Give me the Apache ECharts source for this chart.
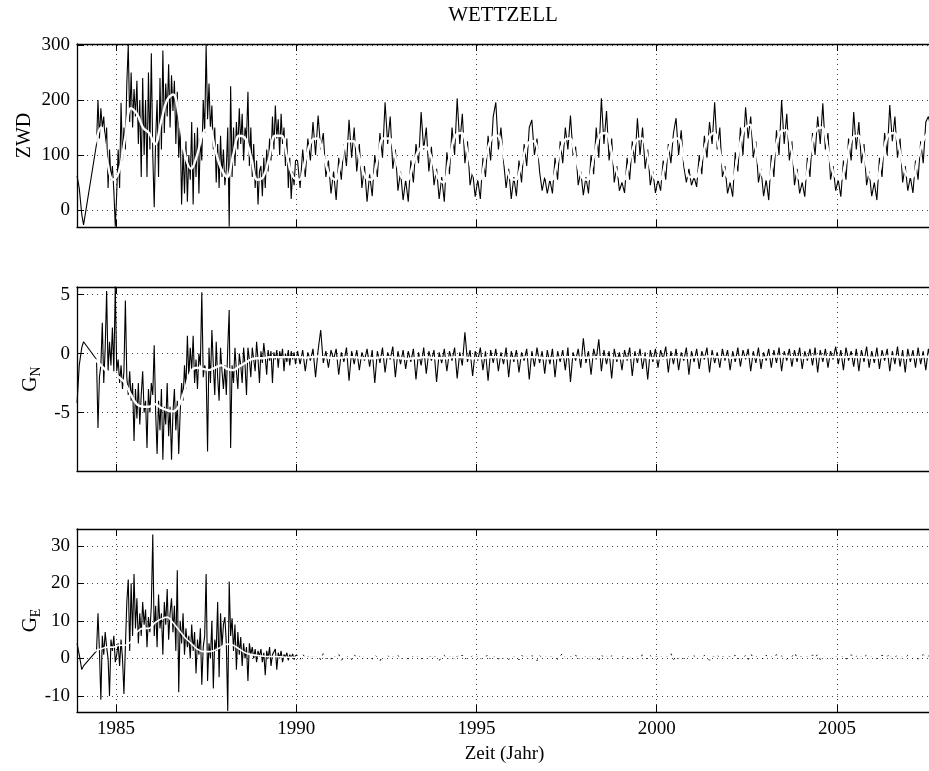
<!DOCTYPE html>
<html>
<head>
<meta charset="utf-8">
<script src="https://cdn.jsdelivr.net/npm/echarts@6/dist/echarts.min.js"></script>
<style>
html, body { margin: 0; padding: 0; background: #fff; }
#chart { width: 929px; height: 771px; }
</style>
</head>
<body>
<div id="chart"></div>
<script>
// ---- Station WETTZELL: troposphere parameters per VLBI session ----

// First sessions (irregular epochs, decimal years)
const startEpochs = [1983.92, 1983.98, 1984.05, 1984.10, 1984.46, 1984.50, 1984.54, 1984.58, 1984.62,
  1984.66, 1984.70, 1984.74, 1984.78, 1984.82, 1984.86, 1984.90, 1984.94, 1984.98];
const startZWD = [62, 40, -8, -27, 120, 200, 130, 185, 150, 170, 120, 150, 40, 110, 55, 80, 35, -30];
const startGN = [-4.2, -1.0, 0.5, 1.0, -0.5, -6.3, -2.0, -1.0, 2.6, -2.5, 0.5, 5.3, -1.5, 1.0, -1.0, 2.2, -1.5, 5.8];
const startGE = [4, 1, -3, -2, 2, 12, 2, -11, 6, 1, 7, 3, 0, -10, 5, 2, 6, -1];

// Regular programme: sessions spread evenly through each year
const blockYears = [1985, 1986, 1987, 1988, 1989, 1990, 1991, 1992, 1993, 1994, 1995, 1996,
  1997, 1998, 1999, 2000, 2001, 2002, 2003, 2004, 2005, 2006, 2007];
const sessionsPerYear = [25, 25, 25, 25, 25, 14, 14, 14, 14, 14, 14, 14, 14, 14, 14, 14, 14, 14, 14, 14, 14, 14, 14];

// Zenith wet delay [mm]
const zwdBlocks = [
  [30, 110, 40, 195, 90, 150, 110, 230, 300, 160, 250, 150, 220, 170, 235, 120, 200, 60, 240, 100, 200, 60, 250, 110, 285],
  [100, 5, 130, 200, 60, 240, 110, 290, 140, 230, 170, 265, 150, 245, 180, 235, 120, 215, 95, 150, 10, 110, 30, 125, 15],
  [100, 55, 160, 10, 140, 60, 150, 30, 130, 90, 200, 140, 300, 165, 230, 145, 190, 110, 150, 50, 120, 40, 135, 60, 110],
  [45, 75, 150, -30, 225, 60, 150, 80, 160, 110, 185, 120, 175, 90, 150, 130, 215, 80, 150, 60, 120, 40, 90, 10, 70],
  [80, 25, 95, 40, 110, 70, 130, 90, 170, 110, 190, 130, 165, 100, 175, 120, 150, 80, 130, 40, 95, 20, 70, 45, 90],
  [90, 40, 110, 60, 130, 90, 160, 100, 172, 110, 140, 60, 90, 30],
  [70, 18, 95, 55, 120, 80, 164, 95, 150, 70, 120, 40, 80, 15],
  [65, 25, 100, 60, 140, 95, 196, 120, 170, 75, 110, 35, 70, 18],
  [55, 15, 90, 50, 120, 85, 178, 110, 150, 70, 115, 45, 75, 20],
  [60, 15, 105, 65, 150, 100, 203, 120, 175, 85, 125, 45, 70, 24],
  [55, 20, 95, 60, 135, 90, 170, 196, 110, 150, 90, 40, 75, 20],
  [60, 25, 90, 50, 120, 80, 150, 164, 100, 130, 70, 35, 60, 30],
  [55, 30, 95, 55, 125, 85, 150, 110, 172, 100, 115, 45, 70, 27],
  [60, 30, 100, 65, 150, 95, 203, 120, 180, 90, 130, 50, 80, 35],
  [50, 31, 95, 55, 125, 85, 167, 100, 150, 75, 110, 45, 70, 31],
  [55, 35, 90, 55, 120, 85, 140, 167, 100, 145, 80, 50, 75, 45],
  [60, 42, 100, 65, 135, 95, 160, 120, 196, 110, 150, 60, 80, 30],
  [50, 24, 105, 70, 150, 100, 187, 130, 170, 95, 125, 50, 75, 25],
  [55, 18, 100, 60, 145, 100, 200, 120, 175, 90, 125, 45, 75, 30],
  [50, 24, 95, 60, 140, 100, 170, 120, 194, 110, 140, 55, 80, 35],
  [55, 24, 90, 55, 130, 90, 178, 110, 160, 85, 120, 45, 70, 25],
  [50, 18, 95, 60, 140, 100, 191, 125, 170, 95, 130, 50, 80, 35],
  [60, 31, 90, 55, 125, 85, 160, 170, 150]
];

// North gradient [mm]
const gnBlocks = [
  [-1.5, -0.5, -2.5, -1.0, -3.0, -1.5, 4.5, -2.0, -3.5, -1.5, -4.0, -2.5, -7.4, -3.0, -5.5, -2.5, -6.0, -3.5, -1.5, -5.0, -4.0, -8.0, -3.0, -5.0, -2.5],
  [-3.5, 0.7, -5.0, -8.5, -4.0, -6.5, -3.0, -9.0, -4.5, -6.0, -2.5, -7.0, -4.5, -9.0, -5.0, -3.0, -6.5, -4.0, -8.5, -5.0, -2.5, -4.0, -1.0, -3.0, 1.5],
  [-2.0, 0.5, -1.5, 1.5, -2.5, -0.5, -3.0, 0.0, -1.0, 5.2, -2.0, -1.0, -1.5, -8.3, 0.5, -2.5, 2.0, -1.0, -3.5, 1.0, -2.0, -4.0, 0.5, -1.5, -3.0],
  [-1.0, -3.5, 0.5, 3.7, -8.0, -1.0, -2.5, 0.5, -1.5, -3.0, 0.0, -1.0, -2.5, 0.5, -1.0, -3.5, 0.5, -0.5, -2.0, 0.5, -0.5, -1.5, 1.0, -0.5, -2.5],
  [0.2, -0.8, 0.9, -0.3, -1.8, 0.3, -0.6, 0.2, -2.5, 0.1, -0.5, 0.3, -1.2, 0.2, -0.4, 0.4, -1.5, 0.0, -0.7, 0.3, -1.0, 0.2, -0.5, 0.1, -0.9],
  [0.2, -0.9, 0.3, -1.5, 0.1, -0.6, 0.4, -2.0, 0.3, 2.0, -0.8, 0.2, -1.2, 0.3],
  [-0.5, 0.4, -1.8, 0.1, -0.7, 0.5, -2.3, 0.2, -0.9, 0.3, -1.4, 0.1, -0.6, 0.4],
  [-1.1, 0.3, -2.5, 0.2, -0.8, 0.5, -1.6, 0.1, -0.5, 0.6, -2.0, 0.2, -0.9, 0.3],
  [-1.3, 0.2, -0.7, 0.4, -2.2, 0.1, -1.0, 0.5, -1.7, 0.2, -0.6, 0.3, -2.4, 0.1],
  [-0.8, 0.4, -1.5, 0.2, -0.6, 0.5, -2.1, 0.1, -1.0, 1.8, -0.7, 0.3, -1.9, 0.2],
  [-0.6, 0.5, -1.4, 0.2, -2.3, 0.3, -0.8, 0.4, -1.5, 0.1, -0.9, 0.5, -2.0, 0.2],
  [-0.7, 0.3, -1.6, 0.1, -0.6, 0.4, -2.2, 0.2, -1.1, 0.5, -0.8, 0.2, -1.7, 0.3],
  [-0.9, 0.4, -2.0, 0.2, -0.7, 0.3, -1.4, 0.5, -2.4, 0.1, -0.6, 0.4, -1.2, 1.3],
  [-0.8, 0.2, -1.8, 0.4, -0.5, 1.2, -1.5, 0.3, -0.9, 0.2, -2.1, 0.4, -0.7, 0.1],
  [-1.4, 0.3, -0.6, 0.5, -1.9, 0.2, -0.8, 0.4, -1.3, 0.1, -2.2, 0.3, -0.7, 0.4],
  [-1.2, 0.3, -0.5, 0.6, -1.6, 0.2, -0.9, 0.4, -1.4, 0.1, -0.6, 0.5, -1.8, 0.2],
  [-0.7, 0.4, -1.3, 0.2, -0.5, 0.5, -1.6, 0.3, -0.8, 0.1, -1.2, 0.4, -0.6, 0.3],
  [-1.4, 0.2, -0.7, 0.5, -1.1, 0.3, -0.5, 0.4, -1.5, 0.2, -0.8, 0.5, -1.3, 0.1],
  [-0.6, 0.4, -1.2, 0.3, -0.8, 0.5, -1.5, 0.2, -0.6, 0.4, -1.1, 0.3, -0.7, 0.5],
  [-1.3, 0.2, -0.6, 0.4, -1.0, 0.5, -1.6, 0.3, -0.7, 0.4, -1.2, 0.2, -0.5, 0.6],
  [-0.9, 0.3, -1.4, 0.5, -0.6, 0.2, -1.1, 0.4, -1.5, 0.3, -0.7, 0.6, -1.2, 0.2],
  [-0.8, 0.5, -1.3, 0.3, -0.6, 0.4, -1.5, 0.2, -0.9, 0.6, -1.1, 0.3, -1.6, 0.4],
  [-0.7, 0.3, -1.2, 0.5, -0.9, 0.2, -1.4, 0.4, -0.6]
];

// East gradient [mm]
const geBlocks = [
  [1, 4, -2, 5, 0, -9.5, 3, 15, 21, 2, 20, 6, 22.5, 8, 16, 4, 12, 6, 15, 9, 13, 3, 11, 7, 14],
  [33, 6, 14, 3, 17, 8, 12, 1, 15, 9, 18.5, 5, 12, 16, 7, 14, 2, 23.5, -9, 10, 4, 12, 1, 8, 3],
  [6, 0, 9, 2, 7, -4, 5, 1, 8, -7, 3, 6, 22.5, -6, 4, 0, 10, -8, 5, 2, 15, -5, 12, 3, 9],
  [11, 4, -14, 20.5, 6, 10.7, 2, 9, -3, 7, 1, 5.7, -2, 4, 0, 3, -6, 4, 1, 3, 0, 2.5, -1, 2, 0.5],
  [2.5, -1, 1.5, -4.5, 2, 0, 3, -2, 1, 0.5, 2.5, -3, 1.5, 0, 2, -1, 1, 0.3, 1.5, -0.5, 1, 0.2, 1.2, -0.3, 0.8],
  [0.8, -0.3, 1.2, 0.1, 0.6, -0.5, 1.0, 0.2, 0.7, -0.4, 1.3, 0.0, 0.5, -0.2],
  [0.9, 0.1, 1.1, -0.6, 0.4, 0.2, 0.8, -0.3, 1.0, 0.1, 0.6, -0.5, 0.9, 0.0],
  [0.5, -0.2, 0.9, 0.3, -0.7, 0.6, 0.1, 1.0, -0.3, 0.4, 0.2, 0.8, -0.4, 0.3],
  [0.6, 0.0, -0.5, 0.9, 0.2, 0.5, -0.3, 0.7, 0.1, 1.1, -0.2, 0.4, 0.3, -0.6],
  [0.4, 0.8, -0.2, 0.3, 1.0, -0.4, 0.6, 0.1, 0.9, -0.3, 0.5, 0.2, 0.7, 0.0],
  [0.7, -0.1, 0.5, 0.2, 1.2, -0.5, 0.3, 0.6, -0.2, 0.8, 0.1, 0.4, -0.3, 0.6],
  [0.3, 0.6, -0.4, 0.9, 0.1, 0.5, -0.2, 0.7, 0.3, -0.6, 0.8, 0.0, 0.4, 0.2],
  [0.8, 0.1, 0.4, -0.3, 0.6, 1.4, 0.2, -0.2, 0.5, 0.3, 0.9, -0.4, 0.6, 0.1],
  [0.5, -0.2, 0.8, 0.2, 0.4, -0.5, 1.0, 0.1, 0.6, -0.3, 0.7, 0.2, 0.3, -0.1],
  [0.6, 0.2, -0.4, 0.9, 0.0, 0.5, 0.3, -0.2, 1.1, 0.4, -0.3, 0.7, 0.1, 0.5],
  [0.3, 0.8, -0.1, 0.5, 0.2, 1.3, -0.4, 0.6, 0.1, 0.4, -0.2, 0.9, 0.3, 0.0],
  [0.7, -0.3, 0.4, 0.1, 0.8, 0.2, -0.5, 0.6, 0.3, 1.0, -0.1, 0.5, 0.2, 0.6],
  [0.4, 0.0, 0.9, -0.2, 0.5, 0.3, 0.7, -0.4, 1.2, 0.2, 0.6, 0.0, 0.4, -0.3],
  [0.8, 0.2, 0.5, -0.1, 1.0, 0.3, 0.6, 0.1, -0.3, 0.7, 0.4, 1.5, 0.2, 0.5],
  [0.3, -0.2, 0.6, 0.4, 0.9, 0.1, 1.1, -0.3, 0.5, 0.2, 0.8, 0.0, 0.6, 0.3],
  [0.5, 0.1, 0.8, -0.2, 0.4, 1.0, 0.2, 0.6, -0.4, 0.7, 0.3, 0.9, 0.1, 0.4],
  [0.6, -0.1, 0.3, 0.9, 0.2, 0.5, 1.2, -0.3, 0.4, 0.7, 0.0, 0.5, 0.2, 0.8],
  [0.4, 0.1, 0.7, -0.2, 0.5, 1.0, 0.3, 0.6, 0.2]
];

// Smoothed curves: six values per year (bi-monthly)
const trendYears = [1984, 1985, 1986, 1987, 1988, 1989, 1990, 1991, 1992, 1993, 1994, 1995,
  1996, 1997, 1998, 1999, 2000, 2001, 2002, 2003, 2004, 2005, 2006, 2007];
const zwdTrend = [
  [null, null, 120, 150, 90, 55],
  [70, 130, 185, 175, 150, 140],
  [120, 160, 200, 210, 170, 100],
  [75, 100, 140, 150, 110, 75],
  [60, 100, 135, 130, 95, 55],
  [60, 95, 135, 135, 95, 60],
  [55, 90, 125, 130, 100, 65],
  [55, 90, 125, 125, 95, 60],
  [55, 90, 130, 130, 95, 60],
  [55, 85, 110, 115, 95, 60],
  [50, 95, 135, 140, 105, 65],
  [55, 95, 130, 135, 100, 60],
  [55, 85, 120, 125, 95, 60],
  [55, 90, 125, 130, 95, 60],
  [55, 95, 135, 140, 105, 65],
  [55, 90, 125, 130, 95, 60],
  [55, 90, 125, 130, 95, 60],
  [60, 95, 130, 140, 105, 65],
  [55, 100, 145, 155, 110, 65],
  [55, 100, 140, 145, 105, 60],
  [55, 100, 145, 150, 110, 65],
  [55, 90, 130, 135, 100, 60],
  [55, 95, 135, 140, 105, 65],
  [60, 95, 130, 145]
];
const gnTrend = [
  [null, null, -0.5, -1.0, -1.5, -1.7],
  [-2.0, -2.5, -3.5, -4.3, -4.5, -4.5],
  [-4.3, -4.6, -4.8, -4.9, -4.4, -3.0],
  [-1.5, -1.2, -1.3, -1.4, -1.2, -1.0],
  [-1.3, -1.4, -1.1, -0.8, -0.5, -0.4],
  [-0.4, -0.3, -0.3, -0.3, -0.3, -0.3],
  [-0.3, -0.35, -0.3, -0.25, -0.3, -0.35],
  [-0.4, -0.35, -0.3, -0.3, -0.35, -0.4],
  [-0.4, -0.35, -0.3, -0.3, -0.35, -0.4],
  [-0.45, -0.4, -0.35, -0.3, -0.35, -0.4],
  [-0.4, -0.35, -0.3, -0.3, -0.35, -0.4],
  [-0.4, -0.35, -0.3, -0.3, -0.35, -0.4],
  [-0.4, -0.35, -0.3, -0.3, -0.35, -0.4],
  [-0.4, -0.35, -0.3, -0.3, -0.3, -0.35],
  [-0.35, -0.3, -0.3, -0.3, -0.35, -0.4],
  [-0.4, -0.35, -0.3, -0.3, -0.35, -0.4],
  [-0.4, -0.35, -0.3, -0.3, -0.35, -0.35],
  [-0.3, -0.3, -0.25, -0.25, -0.3, -0.3],
  [-0.35, -0.3, -0.3, -0.25, -0.3, -0.35],
  [-0.3, -0.25, -0.25, -0.25, -0.3, -0.3],
  [-0.35, -0.3, -0.25, -0.25, -0.3, -0.3],
  [-0.3, -0.3, -0.25, -0.3, -0.3, -0.35],
  [-0.35, -0.3, -0.25, -0.25, -0.3, -0.35],
  [-0.3, -0.3, -0.25, -0.3]
];
const geTrend = [
  [null, null, 2.0, 2.5, 3.0, 3.0],
  [3.5, 3.5, 4.5, 7.0, 8.0, 8.0],
  [9.5, 10.5, 11.0, 9.5, 7.5, 5.5],
  [4.0, 2.5, 1.8, 1.8, 2.2, 3.0],
  [3.8, 3.5, 2.5, 1.5, 1.0, 0.8],
  [0.6, 0.5, 0.5, 0.4, 0.3, 0.3],
  [0.3, 0.3, 0.3, 0.3, 0.3, 0.3],
  [0.3, 0.3, 0.3, 0.3, 0.3, 0.3],
  [0.3, 0.3, 0.3, 0.3, 0.3, 0.3],
  [0.3, 0.3, 0.3, 0.3, 0.3, 0.3],
  [0.3, 0.3, 0.3, 0.3, 0.3, 0.3],
  [0.3, 0.3, 0.3, 0.3, 0.3, 0.3],
  [0.3, 0.3, 0.3, 0.3, 0.3, 0.3],
  [0.3, 0.3, 0.3, 0.3, 0.3, 0.3],
  [0.3, 0.3, 0.3, 0.3, 0.3, 0.3],
  [0.3, 0.3, 0.3, 0.3, 0.3, 0.3],
  [0.3, 0.3, 0.3, 0.3, 0.3, 0.3],
  [0.3, 0.3, 0.3, 0.3, 0.3, 0.3],
  [0.3, 0.3, 0.3, 0.3, 0.3, 0.3],
  [0.3, 0.3, 0.3, 0.3, 0.3, 0.3],
  [0.3, 0.3, 0.3, 0.3, 0.3, 0.3],
  [0.3, 0.3, 0.3, 0.3, 0.3, 0.3],
  [0.3, 0.3, 0.3, 0.3, 0.3, 0.3],
  [0.3, 0.3, 0.3, 0.3]
];

// ---- assemble [epoch, value] pairs ----
function sessionPoints(startVals, blocks) {
  const pts = startEpochs.map((t, i) => [t, startVals[i]]);
  blockYears.forEach((y, b) => {
    const n = sessionsPerYear[b];
    blocks[b].forEach((v, i) => pts.push([y + (i + 0.5) / n, v]));
  });
  return pts;
}
function trendPoints(rows) {
  const pts = [];
  trendYears.forEach((y, r) => rows[r].forEach((v, i) => pts.push([y + (i + 0.5) / 6, v])));
  return pts;
}

const zwdPts = sessionPoints(startZWD, zwdBlocks);
const gnPts = sessionPoints(startGN, gnBlocks);
const gePts = sessionPoints(startGE, geBlocks);
// the small post-1990 east gradients print faintly
const geEarly = gePts.filter(p => p[0] < 1990);
const geLate = gePts.filter(p => p[0] >= 1989.97);

// ---- layout ----
const FONT = "'Liberation Serif', 'Times New Roman', 'DejaVu Serif', serif";
const X_MIN = 1983.918, X_MAX = 2007.636;
const GRID_LEFT = 77, GRID_WIDTH = 855;
const panels = [
  { top: 44, height: 183, min: -31, max: 302, split: 3, step: 100, name: 'ZWD', gap: 42 },
  { top: 287, height: 184, min: -9.95, max: 5.64, split: 3, step: 5, name: '{g|G}{s|N}', gap: 34 },
  { top: 529, height: 183, min: -14.3, max: 34.5, split: 5, step: 10, name: '{g|G}{s|E}', gap: 34 }
];

const isStep = (v, step) => Math.abs(v - Math.round(v / step) * step) < 1e-6;

const grid = panels.map(p => ({ left: GRID_LEFT, width: GRID_WIDTH, top: p.top, height: p.height, outerBoundsMode: 'none' }));

const xAxis = [];
panels.forEach((p, g) => {
  const last = g === panels.length - 1;
  xAxis.push({
    type: 'value', gridIndex: g, min: X_MIN, max: X_MAX, splitNumber: 5, position: 'bottom',
    axisLine: { show: true, onZero: false, lineStyle: { color: '#000', width: 1.3 } },
    axisTick: { show: true, inside: true, length: 7, lineStyle: { color: '#000', width: 1 } },
    axisLabel: {
      show: last, margin: 8, color: '#000', fontFamily: FONT, fontSize: 19,
      formatter: v => (isStep(v, 5) ? String(Math.round(v)) : '')
    },
    splitLine: { show: true, lineStyle: { color: '#444', width: 1, type: [1, 4] } },
    name: last ? 'Zeit (Jahr)' : '', nameLocation: 'middle', nameGap: 33, nameMoveOverlap: false,
    nameTextStyle: { color: '#000', fontFamily: FONT, fontSize: 19 }
  });
  xAxis.push({
    type: 'value', gridIndex: g, min: X_MIN, max: X_MAX, splitNumber: 5, position: 'top',
    axisLine: { show: true, onZero: false, lineStyle: { color: '#000', width: 1.3 } },
    axisTick: { show: true, inside: true, length: 7, lineStyle: { color: '#000', width: 1 } },
    axisLabel: { show: false }, splitLine: { show: false }
  });
});

const yAxis = panels.map((p, g) => ({
  type: 'value', gridIndex: g, min: p.min, max: p.max, splitNumber: p.split, position: 'left',
  axisLine: { show: true, onZero: false, lineStyle: { color: '#000', width: 1.3 } },
  axisTick: { show: true, inside: true, length: 7, lineStyle: { color: '#000', width: 1 } },
  axisLabel: {
    margin: 7, color: '#000', fontFamily: FONT, fontSize: 19,
    formatter: v => (isStep(v, p.step) ? String(Math.round(v)) : '')
  },
  splitLine: { show: true, lineStyle: { color: '#444', width: 1, type: [1, 4] } },
  name: p.name, nameLocation: 'middle', nameRotate: 90, nameGap: p.gap, nameMoveOverlap: false,
  nameTextStyle: {
    color: '#000', fontFamily: FONT, fontSize: 20,
    rich: {
      g: { fontFamily: FONT, fontSize: 21, color: '#000', lineHeight: 26 },
      s: { fontFamily: FONT, fontSize: 14, color: '#000', lineHeight: 14, verticalAlign: 'bottom' }
    }
  }
}));

const dataLine = { color: '#000', width: 1.1 };
const trendLine = { color: '#fff', width: 2.4 };
function line(data, g, style, extra) {
  return Object.assign({
    type: 'line', xAxisIndex: g * 2, yAxisIndex: g, data: data,
    symbol: 'none', showSymbol: false, silent: true, lineStyle: style, connectNulls: false
  }, extra || {});
}

const option = {
  backgroundColor: '#fff',
  animation: false,
  graphic: [{
    type: 'text', x: 503, y: 15,
    style: { text: 'WETTZELL', fill: '#000', font: '21px ' + FONT, align: 'center', verticalAlign: 'middle', textAlign: 'center', textVerticalAlign: 'middle' }
  }],
  grid: grid,
  xAxis: xAxis,
  yAxis: yAxis,
  series: [
    line(zwdPts, 0, dataLine),
    line(trendPoints(zwdTrend), 0, trendLine, { smooth: 0.4 }),
    line(gnPts, 1, dataLine),
    line(trendPoints(gnTrend), 1, trendLine, { smooth: 0.4 }),
    line(geEarly, 2, dataLine),
    line(geLate, 2, { color: '#000', width: 1, opacity: 1, type: [2, 5] }),
    line(trendPoints(geTrend), 2, { color: '#fff', width: 1.6 }, { smooth: 0.4 })
  ]
};

const chart = echarts.init(document.getElementById('chart'), null, { renderer: 'canvas' });
chart.setOption(option);
</script>
</body>
</html>
